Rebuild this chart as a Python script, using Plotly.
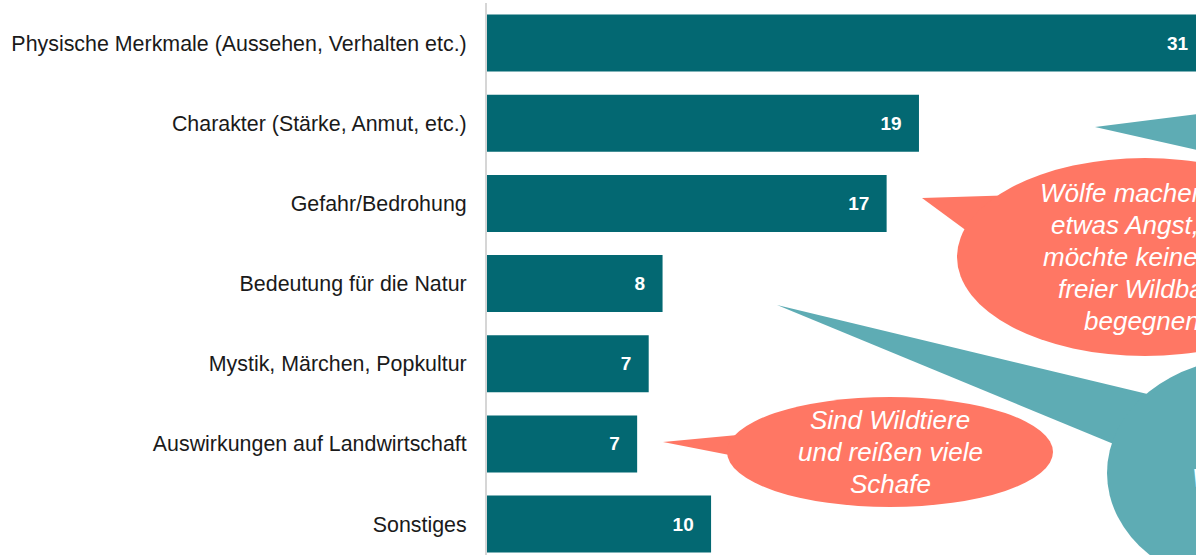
import plotly.graph_objects as go

# ---- data ----
categories = [
    "Physische Merkmale (Aussehen, Verhalten etc.)",
    "Charakter (Stärke, Anmut, etc.)",
    "Gefahr/Bedrohung",
    "Bedeutung für die Natur",
    "Mystik, Märchen, Popkultur",
    "Auswirkungen auf Landwirtschaft",
    "Sonstiges",
]
shares = [31.1, 18.7, 17.3, 7.6, 7.0, 6.5, 9.7]
value_labels = ["31", "19", "17", "8", "7", "7", "10"]

quote_fear = ["Wölfe machen mir", "etwas Angst, ich", "möchte keinem in", "freier Wildbahn", "begegnen."]
quote_farm = ["Sind Wildtiere", "und reißen viele", "Schafe"]
quote_nature = ["Wunderschöne Tiere"]

# ---- style ----
BAR = "#036872"
SALMON = "#FF7764"
TEAL = "#5EACB4"
FONT = "Liberation Sans, Arial, sans-serif"

# the chart is wider than the 1196 px window; its right end is cut off, as in the reference
W, H = 1206, 555
ML, MR, MT, MB = 487, 0, 3, 0
PW, PH = W - ML - MR, H - MT - MB
PX_PER_UNIT = 23.1
PITCH = 80.17

def fx(px):
    return (px - ML) / PW

def fy(py):
    return (H - MB - py) / PH

pad = "\u00a0\u00a0\u2009"

fig = go.Figure()
fig.add_trace(go.Bar(
    y=categories,
    x=shares,
    orientation="h",
    marker=dict(color=BAR, line=dict(width=0)),
    text=[l + pad for l in value_labels],
    textposition="inside",
    insidetextanchor="end",
    textfont=dict(color="white", size=19, family=FONT, weight="bold"),
    cliponaxis=False,
    hoverinfo="skip",
))

shapes = []

def tri(points, color):
    d = "M " + " L ".join(f"{fx(x):.5f},{fy(y):.5f}" for x, y in points) + " Z"
    shapes.append(dict(type="path", xref="paper", yref="paper", path=d,
                       fillcolor=color, line=dict(width=0), layer="above"))

def ell(cx, cy, rx, ry, color):
    shapes.append(dict(type="circle", xref="paper", yref="paper",
                       x0=fx(cx - rx), x1=fx(cx + rx), y0=fy(cy + ry), y1=fy(cy - ry),
                       fillcolor=color, line=dict(width=0), layer="above"))

# top teal tail (bubble off-canvas)
tri([(1095, 127), (1260, 106), (1260, 164)], TEAL)
# bottom-right teal bubble
tri([(777, 305), (1185, 403), (1150, 459)], TEAL)
ell(1250, 473, 143, 115, TEAL)
# salmon bubble 1
tri([(922, 198), (1020, 195), (990, 248)], SALMON)
ell(1145, 257, 188, 99, SALMON)
# salmon bubble 2
tri([(663, 442), (770, 432), (765, 462)], SALMON)
ell(890, 452, 163, 55, SALMON)

annotations = []

def quote(lines, cx, cy, pitch=32, size=26, anchor="center"):
    n = len(lines)
    for i, line in enumerate(lines):
        y = cy + (i - (n - 1) / 2) * pitch
        annotations.append(dict(
            xref="paper", yref="paper", x=fx(cx), y=fy(y),
            text=f"<i>{line}</i>", showarrow=False,
            xanchor=anchor, yanchor="middle",
            font=dict(color="white", size=size, family=FONT),
        ))

quote(quote_fear, 1145, 257)
quote(quote_farm, 890, 452)
quote(quote_nature, 1190, 478, anchor="left")

top_rng = -0.5
bottom_rng = top_rng + PH / PITCH

fig.update_layout(
    width=W, height=H,
    margin=dict(l=ML, r=MR, t=MT, b=MB, pad=0),
    paper_bgcolor="white", plot_bgcolor="white",
    showlegend=False,
    bargap=0.289,
    shapes=shapes,
    annotations=annotations,
    xaxis=dict(visible=False, range=[0, PW / PX_PER_UNIT], fixedrange=True),
    yaxis=dict(
        type="category",
        range=[bottom_rng, top_rng],
        showgrid=False, zeroline=False,
        showline=True, linecolor="#d6d6d6", linewidth=2,
        ticks="", ticklabelstandoff=14,
        tickfont=dict(size=21.4, color="#1a1a1a", family=FONT),
        fixedrange=True,
    ),
    font=dict(family=FONT),
)

fig.write_html(
    "out.html",
    config={"displayModeBar": False},
    post_script="document.body.style.margin='0';document.body.style.overflow='hidden';",
)
